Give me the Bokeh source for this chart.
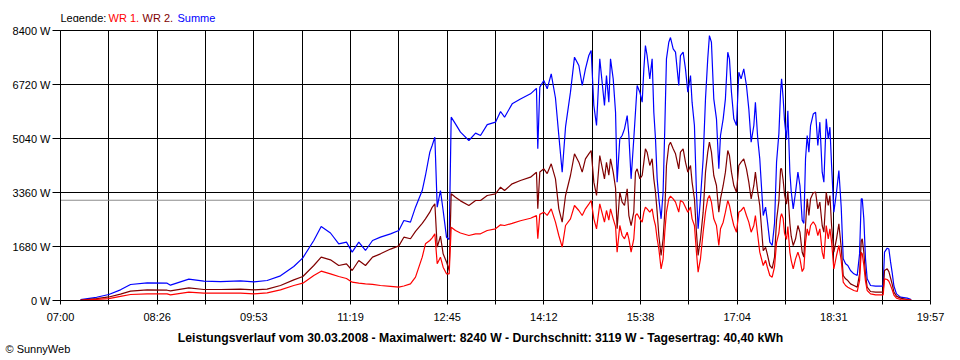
from bokeh.plotting import figure
from bokeh.layouts import column
from bokeh.models import Range1d, FixedTicker, Span, Label
from bokeh.embed import file_html
from bokeh.resources import INLINE

# minutes after 07:00
t_min = [17.9, 32.2, 43.2, 53.6, 62.6, 77.5, 95.3, 98.3, 114.7, 128.1, 143.0, 160.9, 172.8, 184.7,
         196.6, 208.5, 216.6, 226.4, 233.0, 241.3, 248.7, 255.6, 260.7, 266.6, 272.6, 278.9, 286.0,
         295.0, 302.4, 306.9, 312.8, 317.3, 323.3, 326.2, 330.1, 332.2, 334.6, 336.7, 339.6, 342.0,
         345.0, 347.4, 349.2, 353.0, 357.5, 365.0, 371.0, 375.4, 381.4, 388.8, 393.3, 396.9, 403.7,
         411.1, 420.1, 425.4, 426.6, 428.4, 432.0, 435.0, 438.6, 442.4, 445.4, 448.4, 451.4, 455.8,
         459.4, 463.3, 466.3, 469.2, 472.2, 474.3, 476.7, 479.1, 482.0, 486.2, 488.0, 490.1, 491.6,
         494.0, 496.1, 497.5, 499.9, 502.0, 504.1, 506.5, 508.0, 510.0, 512.4, 513.9, 515.4, 517.8,
         519.9, 521.4, 522.8, 524.3, 526.7, 528.8, 530.3, 531.8, 533.3, 534.8, 536.8, 538.6, 540.1,
         541.6, 543.7, 545.2, 547.6, 549.7, 552.6, 554.1, 556.5, 558.6, 560.7, 563.1, 564.5, 566.6,
         568.4, 569.9, 572.0, 574.4, 576.5, 578.5, 580.0, 581.8, 583.9, 586.3, 588.4, 589.9, 592.3,
         594.3, 596.4, 597.9, 599.7, 601.8, 604.2, 606.3, 608.3, 610.7, 613.1, 615.2, 617.3, 619.7,
         621.1, 623.2, 625.0, 628.1, 630.2, 631.7, 634.0, 636.1, 638.2, 640.0, 642.1, 643.6, 644.5,
         645.9, 647.1, 648.9, 650.1, 651.9, 653.1, 654.9, 657.0, 659.1, 660.9, 662.9, 664.4, 665.9,
         667.4, 668.9, 670.4, 672.8, 674.9, 676.9, 678.7, 680.8, 682.3, 684.4, 686.2, 687.7, 689.2,
         691.2, 693.6, 695.7, 697.8, 699.6, 701.7, 703.7, 706.1, 709.1, 712.1, 714.2, 715.7, 716.6,
         718.0, 719.5, 721.0, 724.0, 728.5, 734.4, 735.3, 736.5, 738.9, 740.4, 741.9, 743.4, 744.9,
         747.2, 750.8, 756.8, 760.4]

summe = [30, 100, 187, 332, 498, 550, 540, 477, 664, 602, 590, 612, 580, 622,
         768, 1058, 1327, 1867, 2302, 2100, 1763, 1815, 1504, 1815, 1556, 1867, 1970,
         2074, 2178, 2489, 2437, 2904, 3422, 3889, 4615, 4822, 5081, 2904, 3422, 2800,
         1970, 1900, 5703, 5496, 5237, 4978, 5206, 5133, 5470, 5548, 5880, 5703, 6118,
         6270, 6430, 6600, 4719, 6637, 6844, 6585, 7052, 6300, 5133, 3992, 5400, 6481,
         7570, 7311, 6689, 7207, 7622, 7778, 6067, 5444, 7518, 6067, 7000, 6170, 7518,
         6896, 5859, 3682, 5030, 5133, 5341, 5755, 5133, 3785, 5030, 5859, 6689, 6481,
         6170, 7207, 7933, 7622, 6896, 7518, 5859, 5030, 3785, 3163, 2541, 3370, 5341,
         7518, 8034, 8180, 7830, 7726, 6689, 7622, 7726, 7207, 6481, 7000, 6170, 5444,
         3370, 2230, 3163, 4408, 6274, 7518, 8240, 8034, 6274, 5652, 4096, 5133, 5652,
         6274, 7726, 7518, 6481, 5652, 5444, 7103, 6896, 7207, 6689, 5963, 4926, 5444,
         6170, 5030, 4408, 2644, 2904, 2500, 1815, 1711, 2400, 4300, 5200, 6481, 6896,
         6300, 5600, 5000, 5900, 4000, 3400, 2852, 3370, 3993, 3578, 2500, 2400, 4408,
         5133, 4615, 5444, 5800, 5859, 4822, 5548, 3993, 3682, 5652, 5030, 5392, 4200,
         2748, 3370, 4044, 2900, 1296, 1141, 1089, 933, 830, 778, 1450, 3163, 3163,
         2541, 1296, 674, 467, 446, 446, 467, 1504, 1628, 1600, 1200, 850, 450,
         207, 104, 73, 31]

wr2 = [10, 60, 110, 200, 290, 332, 320, 300, 394, 342, 342, 353, 332, 353,
       467, 643, 747, 1089, 1348, 1265, 1089, 1141, 933, 1244, 1089, 1348, 1452,
       1600, 1700, 1970, 1920, 2150, 2400, 2541, 2748, 2900, 3008, 1659, 2000, 1452,
       1200, 933, 3319, 3215, 3100, 2956, 3111, 3111, 3267, 3319, 3526, 3422, 3630,
       3733, 3837, 3990, 2852, 4000, 4096, 3950, 4252, 3785, 2852, 2437, 3267, 3889,
       4563, 4304, 3993, 4408, 4563, 4667, 3682, 3267, 4511, 3785, 4300, 3900, 4408,
       3993, 3500, 2230, 3370, 3059, 2956, 3474, 2644, 2333, 2748, 3993, 4096, 3785,
       3889, 4304, 4719, 4615, 4200, 4408, 3785, 3370, 2748, 2022, 1400, 1919, 2748,
       4200, 4822, 4926, 4719, 4563, 4096, 4615, 4719, 4304, 3993, 4200, 3682, 3163,
       2126, 1400, 1919, 2748, 3993, 4615, 4926, 4615, 3889, 3578, 2748, 3163, 3578,
       3993, 4667, 4511, 3993, 3578, 3370, 4200, 4304, 4408, 4096, 3682, 3163, 3578,
       3993, 3370, 2956, 1550, 1650, 1450, 1089, 1000, 1350, 2500, 3100, 4096, 4100,
       3750, 3300, 3000, 3400, 2400, 2000, 1711, 1919, 2333, 2126, 1500, 1350, 2333,
       3163, 2644, 3163, 3350, 3370, 2852, 3059, 2333, 2126, 3370, 2956, 3267, 2333,
       1504, 1919, 2385, 1650, 778, 674, 622, 518, 467, 415, 830, 1850, 1919,
       1504, 800, 415, 280, 259, 259, 259, 933, 985, 900, 700, 500, 260,
       135, 73, 31, 15]

wr1 = [8, 35, 60, 130, 187, 207, 207, 176, 259, 228, 228, 228, 207, 238,
       332, 467, 539, 778, 913, 830, 747, 684, 570, 540, 518, 500, 467,
       440, 415, 450, 518, 726, 1348, 1763, 1867, 1950, 2074, 1141, 1348, 1037,
       830, 830, 2281, 2178, 2100, 2022, 2074, 2074, 2178, 2230, 2354, 2333, 2400,
       2480, 2560, 2640, 1919, 2680, 2748, 2650, 2852, 2437, 2022, 1659, 2333, 2541,
       2956, 2800, 2644, 2852, 3000, 3111, 2541, 2230, 3008, 2437, 2800, 2500, 2852,
       2541, 2300, 1504, 2333, 2022, 1919, 2126, 1919, 1504, 1919, 2644, 2700, 2541,
       2437, 2748, 2904, 2852, 2748, 2852, 2541, 2333, 1919, 1607, 985, 1296, 2126,
       2748, 3163, 3245, 3163, 3059, 2748, 3111, 3059, 2904, 2748, 2904, 2541, 2333,
       1504, 882, 1296, 2126, 2748, 3163, 3267, 3059, 2541, 2333, 1711, 2230, 2437,
       2748, 3111, 2956, 2644, 2333, 2126, 2748, 2800, 2904, 2644, 2437, 2126, 2333,
       2644, 2022, 1504, 1089, 1250, 1050, 778, 726, 1050, 1800, 2100, 2600, 2700,
       2550, 2100, 1900, 2300, 1500, 1250, 985, 1296, 1504, 1296, 900, 1000, 1815,
       2230, 2022, 2333, 2450, 2333, 2022, 2230, 1504, 1296, 2333, 1919, 2230, 1815,
       985, 1400, 1711, 1250, 570, 467, 415, 363, 311, 280, 620, 1500, 1450,
       1100, 600, 311, 207, 176, 176, 176, 674, 653, 600, 470, 330, 170,
       73, 31, 20, 10]

x_major = [0, 86.4, 172.8, 259.2, 345.6, 432.0, 518.4, 604.8, 691.2, 777.6]
x_labels = ["07:00", "08:26", "09:53", "11:19", "12:45", "14:12", "15:38", "17:04", "18:31", "19:57"]
x_minor = [43.2, 129.6, 216.0, 302.4, 388.8, 475.2, 561.6, 648.0, 734.4]
y_ticks = [0, 1680, 3360, 5040, 6720, 8400]
y_labels = ["0 W", "1680 W", "3360 W", "5040 W", "6720 W", "8400 W"]
average_w = 3119
legend_parts = ["Legende:", "WR 1,", "WR 2,", "Summe"]
legend_colors = ["black", "#FF0000", "#800000", "#0000FF"]
title_text = "Leistungsverlauf vom 30.03.2008 - Maximalwert: 8240 W - Durchschnitt: 3119 W - Tagesertrag: 40,40 kWh"
credit_text = "\u00a9 SunnyWeb"

FONT = "Liberation Sans"


def text_strip(height):
    f = figure(width=960, height=height, output_backend="svg", toolbar_location=None,
               x_axis_location=None, y_axis_location=None,
               x_range=Range1d(0, 960), y_range=Range1d(0, height),
               min_border_left=0, min_border_right=0, min_border_top=0, min_border_bottom=0,
               background_fill_color="white", border_fill_color="white")
    f.outline_line_color = None
    f.grid.visible = False
    if "frame_align" in f.properties():
        f.frame_align = False
    return f


def lab(fig, x, y, text, color="black", bold=False, align="left", size="11px"):
    fig.add_layout(Label(x=x, y=y, x_units="canvas", y_units="canvas", text=text,
                         text_font=FONT, text_font_size=size, text_color=color,
                         text_font_style="bold" if bold else "normal",
                         text_align=align, text_baseline="middle"))


# --- top strip: legend ---
top = text_strip(22)
for x, txt, col in zip([60, 108, 142, 177], legend_parts, legend_colors):
    lab(top, x, 17, txt, col)

# --- main chart ---
p = figure(width=960, height=305, output_backend="svg", toolbar_location=None,
           x_range=Range1d(0, 777.6), y_range=Range1d(0, 8400),
           min_border_left=60, min_border_right=30, min_border_top=8, min_border_bottom=27,
           background_fill_color="white", border_fill_color="white")
if "frame_align" in p.properties():
    p.frame_align = False
p.outline_line_color = "black"
p.outline_line_alpha = 1.0

xt = FixedTicker(ticks=x_major, minor_ticks=x_minor)
yt = FixedTicker(ticks=y_ticks, minor_ticks=[])
p.xaxis.ticker = xt
p.yaxis.ticker = yt
p.xgrid.ticker = xt
p.ygrid.ticker = yt
p.xaxis.major_label_overrides = {t: l for t, l in zip(x_major, x_labels)}
p.yaxis.major_label_overrides = {t: l for t, l in zip(y_ticks, y_labels)}

for ax in (p.xaxis[0], p.yaxis[0]):
    ax.axis_line_color = "black"
    ax.major_tick_line_color = "black"
    ax.minor_tick_line_color = "black"
    ax.major_tick_in = 0
    ax.minor_tick_in = 0
    ax.major_label_text_font = FONT
    ax.major_label_text_font_size = "11px"
    ax.major_label_text_color = "black"
p.xaxis.major_tick_out = 4
p.xaxis.minor_tick_out = 4
p.xaxis.major_label_standoff = 6
p.yaxis.major_tick_out = 8
p.yaxis.minor_tick_out = 0
p.yaxis.major_label_standoff = 2

for g in (p.xgrid[0], p.ygrid[0]):
    g.grid_line_color = "black"
    g.grid_line_alpha = 1.0
    g.grid_line_width = 1
p.xgrid.minor_grid_line_color = "black"
p.xgrid.minor_grid_line_alpha = 1.0

p.add_layout(Span(location=average_w, dimension="width", line_color="#8c8c8c",
                  line_width=1, level="underlay"))

p.line(t_min, summe, line_color="#0000FF", line_width=1.2)
p.line(t_min, wr2, line_color="#800000", line_width=1.2)
p.line(t_min, wr1, line_color="#FF0000", line_width=1.2)

# --- bottom strip: title and credit ---
bottom = text_strip(33)
lab(bottom, 480, 10, title_text, bold=True, align="center", size="12.2px")
lab(bottom, 5, 21, credit_text)

layout = column(top, p, bottom, spacing=0)
open("out.html", "w").write(file_html(layout, INLINE))
